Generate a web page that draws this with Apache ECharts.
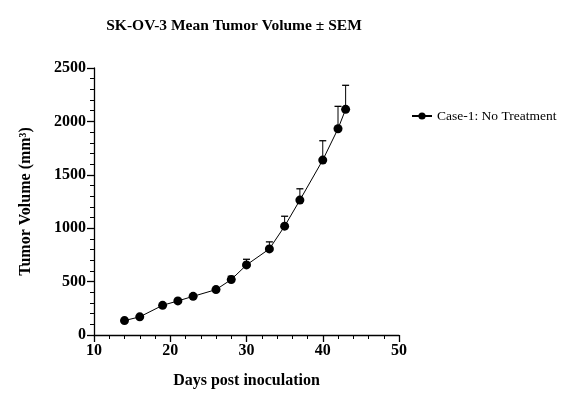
<!DOCTYPE html>
<html><head><meta charset="utf-8">
<script src="https://cdn.jsdelivr.net/npm/echarts@6/dist/echarts.min.js"></script>
<style>html,body{margin:0;padding:0;background:#fff}#c{width:571px;height:417px}</style>
</head><body><div id="c"></div>
<script>
const days = [14, 16, 19, 21, 23, 26, 28, 30, 33, 35, 37, 40, 42, 43];
const meanVolume = [135, 170, 278, 319, 362, 425, 519, 656, 806, 1019, 1263, 1638, 1931, 2113];
const semVolume = [0, 0, 0, 0, 0, 0, 31, 53, 66, 93, 106, 181, 210, 225];
const seriesName = 'Case-1: No Treatment';

const serif = '"Liberation Serif", "Times New Roman", serif';
const chart = echarts.init(document.getElementById('c'));
const lineData = days.map((d, i) => [d, meanVolume[i]]);
const errData = days.map((d, i) => [d, meanVolume[i], meanVolume[i] + semVolume[i]]);

const labelStyle = {fontFamily: serif, fontWeight: 'bold', fontSize: 16, color: '#000', margin: 8, formatter: v => String(v)};
const nameStyle = {fontFamily: serif, fontWeight: 'bold', fontSize: 16, color: '#000'};
const minorAxisCommon = {
  type: 'value',
  axisLine: {show: false},
  axisTick: {show: true, length: 4, lineStyle: {color: '#000', width: 1}},
  axisLabel: {show: false},
  splitLine: {show: false}
};

chart.setOption({
  animation: false,
  title: {
    text: 'SK-OV-3 Mean Tumor Volume ± SEM',
    left: 229, top: 13, textAlign: 'center',
    textStyle: {fontFamily: serif, fontWeight: 'bold', fontSize: 15.5, color: '#000'}
  },
  legend: {
    left: 406, top: 104, itemWidth: 20, itemHeight: 9, itemGap: 6,
    data: [{name: seriesName}],
    textStyle: {fontFamily: serif, fontSize: 13.5, color: '#000'}
  },
  grid: {left: 94, right: 172, top: 68, bottom: 82},
  xAxis: [
    {
      type: 'value', min: 10, max: 50, interval: 10, position: 'bottom',
      name: 'Days post inoculation', nameLocation: 'middle', nameGap: 38,
      nameTextStyle: nameStyle,
      axisLine: {show: true, onZero: false, lineStyle: {color: '#000', width: 1.3}},
      axisTick: {show: true, length: 7, lineStyle: {color: '#000', width: 1.3}},
      splitLine: {show: false},
      axisLabel: labelStyle
    },
    Object.assign({}, minorAxisCommon, {min: 10, max: 50, interval: 2, position: 'bottom', offset: 0})
  ],
  yAxis: [
    {
      type: 'value', min: 0, max: 2500, interval: 500, position: 'left',
      name: 'Tumor Volume (mm³)', nameLocation: 'middle', nameGap: 60,
      nameTextStyle: nameStyle,
      axisLine: {show: true, onZero: false, lineStyle: {color: '#000', width: 1.3}},
      axisTick: {show: true, length: 7, lineStyle: {color: '#000', width: 1.3}},
      splitLine: {show: false},
      axisLabel: labelStyle
    },
    Object.assign({}, minorAxisCommon, {min: 0, max: 2500, interval: 100, position: 'left', offset: 0})
  ],
  series: [
    {
      type: 'custom', name: 'err', silent: true, z: 1,
      data: errData,
      renderItem: function (params, api) {
        const x = api.value(0), y0 = api.value(1), y1 = api.value(2);
        if (y1 <= y0) return null;
        const p0 = api.coord([x, y0]);
        const p1 = api.coord([x, y1]);
        const hw = 3.5;
        return {
          type: 'group',
          children: [
            {type: 'line', shape: {x1: p0[0], y1: p0[1], x2: p1[0], y2: p1[1]}, style: {stroke: '#000', lineWidth: 1}},
            {type: 'line', shape: {x1: p1[0] - hw, y1: p1[1], x2: p1[0] + hw, y2: p1[1]}, style: {stroke: '#000', lineWidth: 1.3}}
          ]
        };
      }
    },
    {
      type: 'line', name: seriesName, data: lineData, z: 3,
      symbol: 'circle', symbolSize: 9,
      lineStyle: {color: '#000', width: 1},
      itemStyle: {color: '#000'}
    }
  ]
});
</script></body></html>
